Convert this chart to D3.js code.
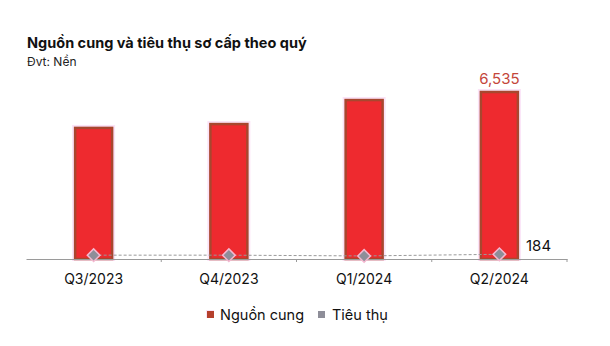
<!DOCTYPE html>
<html><head><meta charset="utf-8">
<script src="https://cdn.jsdelivr.net/npm/d3@7"></script>
<style>body{margin:0;background:#fff}svg{font-family:Inter,"Noto Sans",sans-serif}</style>
</head><body><svg id="c" width="610" height="346"></svg>
<script>
const categories = ["Q3/2023","Q4/2023","Q1/2024","Q2/2024"];
const supply = [5130, 5280, 6220, 6535];
const consumption = [150, 150, 120, 184];
const seriesNames = ["Nguồn cung","Tiêu thụ"];

const svg = d3.select("#c");
const x = d3.scaleBand().domain(categories).range([26,567]);
const y = d3.scaleLinear().domain([0,6535]).range([259,92]);
const bw = 37;

svg.append("text").attr("x",27).attr("y",48).attr("font-size",14.5).attr("font-weight",700).attr("fill","#111").text("Nguồn cung và tiêu thụ sơ cấp theo quý");
svg.append("text").attr("x",27).attr("y",66).attr("font-size",12).attr("fill","#222").text("Đvt: Nền");

// halo
svg.selectAll("rect.halo").data(supply).join("rect").attr("class","halo")
  .attr("x",(d,i)=>x(categories[i])+x.bandwidth()/2-bw/2-3)
  .attr("y",d=>y(d)-3).attr("width",bw+6).attr("height",d=>y(0)-y(d)+5)
  .attr("fill","#fbe3f7");
svg.selectAll("rect.bar").data(supply).join("rect").attr("class","bar")
  .attr("x",(d,i)=>x(categories[i])+x.bandwidth()/2-bw/2)
  .attr("y",d=>y(d)).attr("width",bw).attr("height",d=>y(0)-y(d))
  .attr("fill","#ee2a2f").attr("stroke","#a8472f").attr("stroke-width",2.5);

// axis
const ax = svg.append("g").attr("transform","translate(0,259)").call(d3.axisBottom(x).tickSize(0).tickPadding(15));
ax.select(".domain").attr("stroke","#9a9a9a").attr("stroke-width",1);
ax.selectAll("text").attr("font-size",14).attr("fill","#111").attr("font-family","Inter,sans-serif");
[1,2,3,4].forEach(i=>{
  const xx = i<4 ? x(categories[i]) : x.range()[1];
  svg.append("line").attr("x1",xx).attr("x2",xx).attr("y1",259).attr("y2",262).attr("stroke","#9a9a9a");
});

// consumption line
const line = d3.line().x((d,i)=>x(categories[i])+x.bandwidth()/2).y(d=>y(d));
svg.append("path").datum(consumption).attr("d",line).attr("fill","none").attr("stroke","#9a9a9a").attr("stroke-width",1).attr("stroke-dasharray","3,2");
svg.selectAll("path.dia").data(consumption).join("path").attr("class","dia")
  .attr("d",d3.symbol(d3.symbolSquare,80))
  .attr("transform",(d,i)=>`translate(${x(categories[i])+x.bandwidth()/2},${y(d)}) rotate(45)`)
  .attr("fill","#8e8e99").attr("stroke","#f4b8d0").attr("stroke-width",1.5);

// labels
svg.append("text").attr("x",x(categories[3])+x.bandwidth()/2).attr("y",y(supply[3])-8).attr("text-anchor","middle")
  .attr("font-size",15).attr("fill","#c4463a").text(d3.format(",")(supply[3]));
svg.append("text").attr("x",526).attr("y",y(consumption[3])-3).attr("font-size",15).attr("fill","#111").text(d3.format(",")(consumption[3]));

// legend
const lg = svg.append("g").attr("transform","translate(0,315)");
lg.append("rect").attr("x",206).attr("y",-5).attr("width",8).attr("height",8).attr("fill","#fbe3f7");
lg.append("rect").attr("x",207).attr("y",-4).attr("width",7).attr("height",7).attr("fill","#b5402c");
lg.append("text").attr("x",220).attr("y",5).attr("font-size",14.5).attr("fill","#111").text(seriesNames[0]);
lg.append("rect").attr("x",318).attr("y",-4).attr("width",7).attr("height",7).attr("fill","#8e8e99");
lg.append("text").attr("x",332).attr("y",5).attr("font-size",14.5).attr("fill","#111").text(seriesNames[1]);
</script></body></html>
